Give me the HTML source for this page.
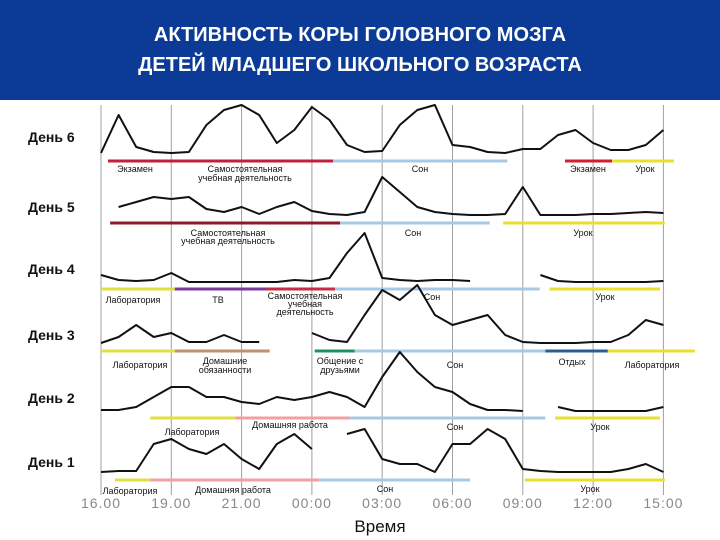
<!DOCTYPE html>
<html><head><meta charset="utf-8"><style>
body{margin:0;width:720px;height:540px;overflow:hidden;background:#fff;font-family:"Liberation Sans","Noto Sans CJK SC",sans-serif}
#hdr{position:absolute;left:0;top:0;width:720px;height:100px;background:#0b3a97;color:#fff;text-align:center;font-weight:bold;font-size:20px;line-height:30px;padding-top:20px;box-sizing:border-box}
svg{position:absolute;left:0;top:0}
</style></head><body>
<div id="hdr">АКТИВНОСТЬ КОРЫ ГОЛОВНОГО МОЗГА<br>ДЕТЕЙ МЛАДШЕГО ШКОЛЬНОГО ВОЗРАСТА</div>
<svg id="c" width="720" height="540"></svg>
<script>
const tickLabels=["16.00","19.00","21.00","00:00","03:00","06:00","09:00","12:00","15:00"];
const dayNames=["День 6","День 5","День 4","День 3","День 2","День 1"];
const dayLabelY=[142,212,274,340,403,467];
const baselines=[155,217,283,345,412,474];
const day6=[2,40,8,3,2,3,30,45,50,40,12,25,48,35,10,3,4,30,45,50,10,8,3,2,6,6,20,25,12,5,5,10,25];
const day5=[null,10,15,20,18,20,8,5,10,3,10,15,6,3,2,5,40,25,10,5,3,2,2,3,30,2,2,2,3,3,4,5,4];
const day4=[8,3,2,3,10,1,1,1,1,1,1,3,2,5,30,50,5,3,2,3,3,2,null,null,null,8,2,1,1,1,1,1,2];
const day3=[2,8,20,8,12,3,3,10,3,3,null,null,12,5,3,30,55,45,60,30,20,25,30,10,3,2,2,2,3,3,10,25,20];
const day2=[2,2,5,15,25,25,15,15,10,8,15,12,15,20,15,5,35,60,40,25,20,8,2,2,1,null,5,1,1,1,1,1,5];
const day1=[2,3,3,30,35,25,20,30,15,5,30,40,25,null,40,45,15,10,10,2,30,30,45,35,5,3,2,2,2,2,5,10,2];
const series=[day6,day5,day4,day3,day2,day1];
// activity segments: [startTick,endTick,color,label]
const segs=[
 [[0.1,3.3,"#c0203a"],[3.3,5.78,"#a8c8e4"],[6.6,7.27,"#d02030"],[7.27,8.15,"#e8e030"]],
 [[0.13,3.4,"#8b1a2a"],[3.4,5.53,"#a8c8e4"],[5.72,8.02,"#e8e030"]],
 [[0,1.05,"#e0e040"],[1.05,2.34,"#7a3a9a"],[2.34,3.33,"#c03040"],[3.33,6.24,"#a8c8e4"],[6.38,7.95,"#e8e030"]],
 [[0,1.05,"#e0e040"],[1.05,2.4,"#c09070"],[3.04,3.61,"#209060"],[3.61,6.32,"#a8c8e4"],[6.32,7.21,"#2a6090"],[7.21,8.45,"#e8e030"]],
 [[0.7,1.91,"#e0e040"],[1.91,3.54,"#f0a0a0"],[3.54,6.32,"#a8c8e4"],[6.46,7.95,"#e8e030"]],
 [[0.2,0.7,"#e0e040"],[0.7,3.1,"#f0a0a8"],[3.1,5.25,"#a8c8e4"],[6.03,8.02,"#e8e030"]]
];
const labels=[
 [[135,172,"Экзамен"],[245,172,"Самостоятельная"],[245,181,"учебная деятельность"],[420,172,"Сон"],[588,172,"Экзамен"],[645,172,"Урок"]],
 [[228,236,"Самостоятельная"],[228,244,"учебная деятельность"],[413,236,"Сон"],[583,236,"Урок"]],
 [[133,303,"Лаборатория"],[218,303,"ТВ"],[305,299,"Самостоятельная"],[305,307,"учебная"],[305,315,"деятельность"],[432,300,"Сон"],[605,300,"Урок"]],
 [[140,368,"Лаборатория"],[225,364,"Домашние"],[225,373,"обязанности"],[340,364,"Общение с"],[340,373,"друзьями"],[455,368,"Сон"],[572,365,"Отдых"],[652,368,"Лаборатория"]],
 [[192,435,"Лаборатория"],[290,428,"Домашняя работа"],[455,430,"Сон"],[600,430,"Урок"]],
 [[130,494,"Лаборатория"],[233,493,"Домашняя работа"],[385,492,"Сон"],[590,492,"Урок"]]
];
const svg=document.getElementById('c');const NS="http://www.w3.org/2000/svg";
const xT=t=>101+t*70.3;
function mk(tag,attrs,parent){const e=document.createElementNS(NS,tag);for(const k in attrs)e.setAttribute(k,attrs[k]);(parent||svg).appendChild(e);return e;}
tickLabels.forEach((lab,i)=>{
 const g=mk('line',{x1:xT(i),x2:xT(i),y1:105,y2:495,stroke:'#a0a0a0','stroke-width':1});
 
 
 const t=mk('text',{x:xT(i),y:508,'text-anchor':'middle','font-size':14,fill:'#888','letter-spacing':'1'});
 t.textContent=lab;
 
 
});
const xt=mk('text',{x:380,y:532,'text-anchor':'middle','font-size':17,fill:'#111'});xt.textContent="Время";


series.forEach((vals,d)=>{
 const b=baselines[d];
 const dl=mk('text',{x:28,y:dayLabelY[d],'font-size':14,'font-weight':'bold',fill:'#111'});dl.textContent=dayNames[d];
 
 
 segs[d].forEach(s=>{const r=mk('line',{x1:xT(s[0]),x2:xT(s[1]),y1:b+6,y2:b+6,stroke:s[2],'stroke-width':3});
  
  });
 let pts=[];const paths=[];
 vals.forEach((v,i)=>{if(v===null){if(pts.length)paths.push(pts);pts=[];}else pts.push([xT(i/4),b-v]);});
 if(pts.length)paths.push(pts);
 paths.forEach(p=>{const l=mk('polyline',{points:p.map(q=>q[0].toFixed(1)+','+q[1].toFixed(1)).join(' '),fill:'none',stroke:'#111','stroke-width':2,'stroke-linejoin':'round'});
  
  });
 labels[d].forEach(L=>{const t=mk('text',{x:L[0],y:L[1],'text-anchor':'middle','font-size':9,fill:'#111'});t.textContent=L[2];
  
  });
});
</script>
</body></html>
